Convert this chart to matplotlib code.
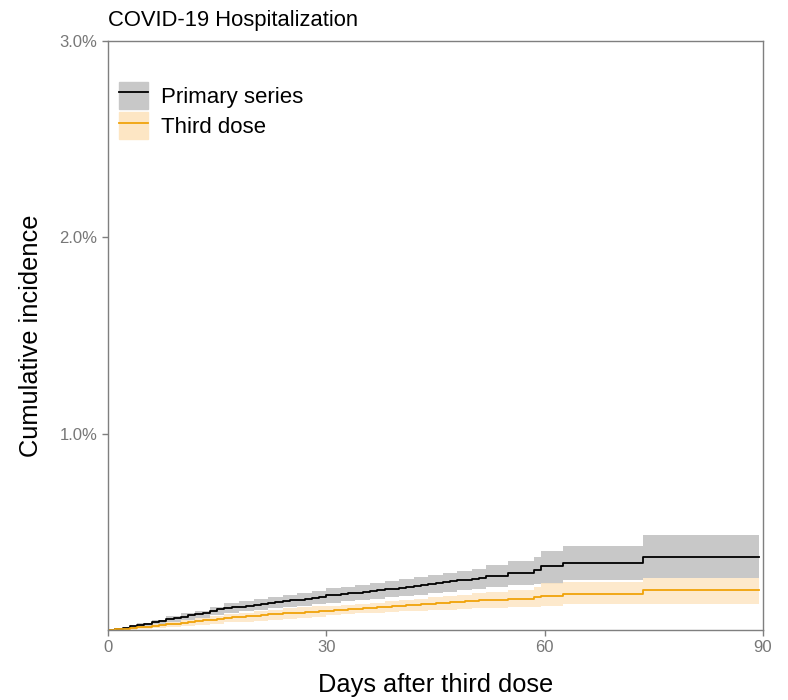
import numpy as np
from matplotlib import pyplot as plt
from matplotlib.patches import Patch
from matplotlib.lines import Line2D

plt.rcParams['font.family'] = ['Liberation Sans', 'DejaVu Sans']

# tempi degli step delle curve (giorni dopo la terza dose)
days = [0, 1, 2, 3, 4, 5, 6, 7, 8, 9, 10, 11, 12, 13, 14, 15, 16, 17, 18, 19, 20,
        21, 22, 23, 24, 25, 26, 27, 28, 29, 30, 31, 32, 33, 34, 35, 36, 37, 38, 39,
        40, 41, 42, 43, 44, 45, 46, 47, 48, 49, 50, 51, 52, 55, 58.5, 59.5, 62.5,
        73.5, 89.5]

# primary series (% cumulativa)
prim = [0.0, 0.006, 0.012, 0.019, 0.026, 0.033, 0.040, 0.047, 0.054, 0.061, 0.068,
        0.074, 0.081, 0.089, 0.097, 0.106, 0.112, 0.115, 0.119, 0.124, 0.129, 0.133,
        0.138, 0.142, 0.147, 0.151, 0.155, 0.160, 0.164, 0.168, 0.177, 0.180, 0.183,
        0.187, 0.191, 0.196, 0.200, 0.204, 0.207, 0.211, 0.215, 0.219, 0.224, 0.229,
        0.234, 0.240, 0.245, 0.249, 0.253, 0.256, 0.260, 0.265, 0.274, 0.290, 0.305,
        0.325, 0.343, 0.370, 0.370]

# terza dose
third = [0.0, 0.003, 0.006, 0.009, 0.013, 0.017, 0.021, 0.025, 0.029, 0.033, 0.037,
         0.041, 0.045, 0.049, 0.053, 0.057, 0.061, 0.064, 0.067, 0.070, 0.073, 0.076,
         0.079, 0.082, 0.085, 0.087, 0.089, 0.091, 0.093, 0.096, 0.099, 0.101, 0.104,
         0.106, 0.109, 0.111, 0.114, 0.116, 0.119, 0.121, 0.124, 0.126, 0.129, 0.131,
         0.134, 0.136, 0.139, 0.141, 0.144, 0.146, 0.149, 0.151, 0.154, 0.160, 0.168,
         0.175, 0.183, 0.204, 0.204]

# bande di confidenza (griglia piu' grossa)
band_days = [0, 2, 4, 6, 8, 10, 12, 14, 16, 18, 20, 22, 24, 26, 28, 30, 32, 34, 36,
             38, 40, 42, 44, 46, 48, 50, 52, 55, 58.5, 59.5, 62.5, 73.5, 89.5]
prim_lo = [0.0, 0.004, 0.015, 0.027, 0.040, 0.052, 0.062, 0.076, 0.089, 0.095, 0.103,
           0.111, 0.118, 0.123, 0.131, 0.140, 0.146, 0.152, 0.160, 0.166, 0.172, 0.180,
           0.188, 0.196, 0.203, 0.208, 0.219, 0.230, 0.232, 0.236, 0.255, 0.265, 0.265]
prim_hi = [0.0, 0.017, 0.035, 0.053, 0.070, 0.085, 0.099, 0.118, 0.136, 0.146, 0.157,
           0.169, 0.178, 0.187, 0.199, 0.212, 0.220, 0.228, 0.240, 0.248, 0.258, 0.268,
           0.280, 0.292, 0.303, 0.312, 0.329, 0.350, 0.372, 0.402, 0.430, 0.485, 0.485]
third_lo = [0.0, 0.001, 0.005, 0.010, 0.015, 0.021, 0.028, 0.033, 0.039, 0.043, 0.048,
            0.053, 0.057, 0.060, 0.064, 0.077, 0.081, 0.085, 0.089, 0.092, 0.095, 0.098,
            0.100, 0.104, 0.108, 0.111, 0.114, 0.116, 0.118, 0.120, 0.130, 0.132, 0.132]
third_hi = [0.0, 0.010, 0.020, 0.030, 0.041, 0.051, 0.062, 0.071, 0.081, 0.087, 0.096,
            0.103, 0.111, 0.116, 0.122, 0.121, 0.127, 0.133, 0.139, 0.146, 0.153, 0.160,
            0.168, 0.174, 0.180, 0.187, 0.194, 0.204, 0.218, 0.238, 0.245, 0.265, 0.265]

grigio = '#c8c8c8'
arancio_band = '#fde6c4'
arancio = '#f0a30a'

fig = plt.figure(figsize=(7.88, 7.0), dpi=100)
ax = fig.add_axes([108/788, 1 - 630/700, (763-108)/788, (630-41)/700])

ax.fill_between(band_days, prim_lo, prim_hi, step='post', color=grigio, lw=0)
ax.fill_between(band_days, third_lo, third_hi, step='post', color=arancio_band, lw=0, alpha=0.85)
ax.step(days, prim, where='post', color='black', lw=1.3)
ax.step(days, third, where='post', color=arancio, lw=1.3)

ax.set_xlim(0, 90)
ax.set_ylim(0, 3.0)
ax.set_xticks([0, 30, 60, 90])
ax.set_yticks([1.0, 2.0, 3.0])
ax.set_yticklabels(['1.0%', '2.0%', '3.0%'])
for s in ax.spines.values():
    s.set_color('#7f7f7f')
    s.set_linewidth(1.0)
ax.tick_params(colors='#7f7f7f', labelcolor='#777777', labelsize=12, length=4, width=1.0)

ax.set_xlabel('Days after third dose', fontsize=18.3, labelpad=13)
ax.set_ylabel('Cumulative incidence', fontsize=18.3, labelpad=12)
ax.set_title('COVID-19 Hospitalization', fontsize=15.8, loc='left', x=0.0, pad=11)

handles = [(Patch(color=grigio), Line2D([], [], color='black', lw=1.3)),
           (Patch(color=arancio_band), Line2D([], [], color=arancio, lw=1.3))]
ax.legend(handles, ['Primary series', 'Third dose'], loc='upper left',
          bbox_to_anchor=(-0.013, 0.965), frameon=False, fontsize=16,
          handlelength=1.3, handleheight=1.5, handletextpad=0.55, labelspacing=0.15)

fig.savefig('out.png', dpi=100)
